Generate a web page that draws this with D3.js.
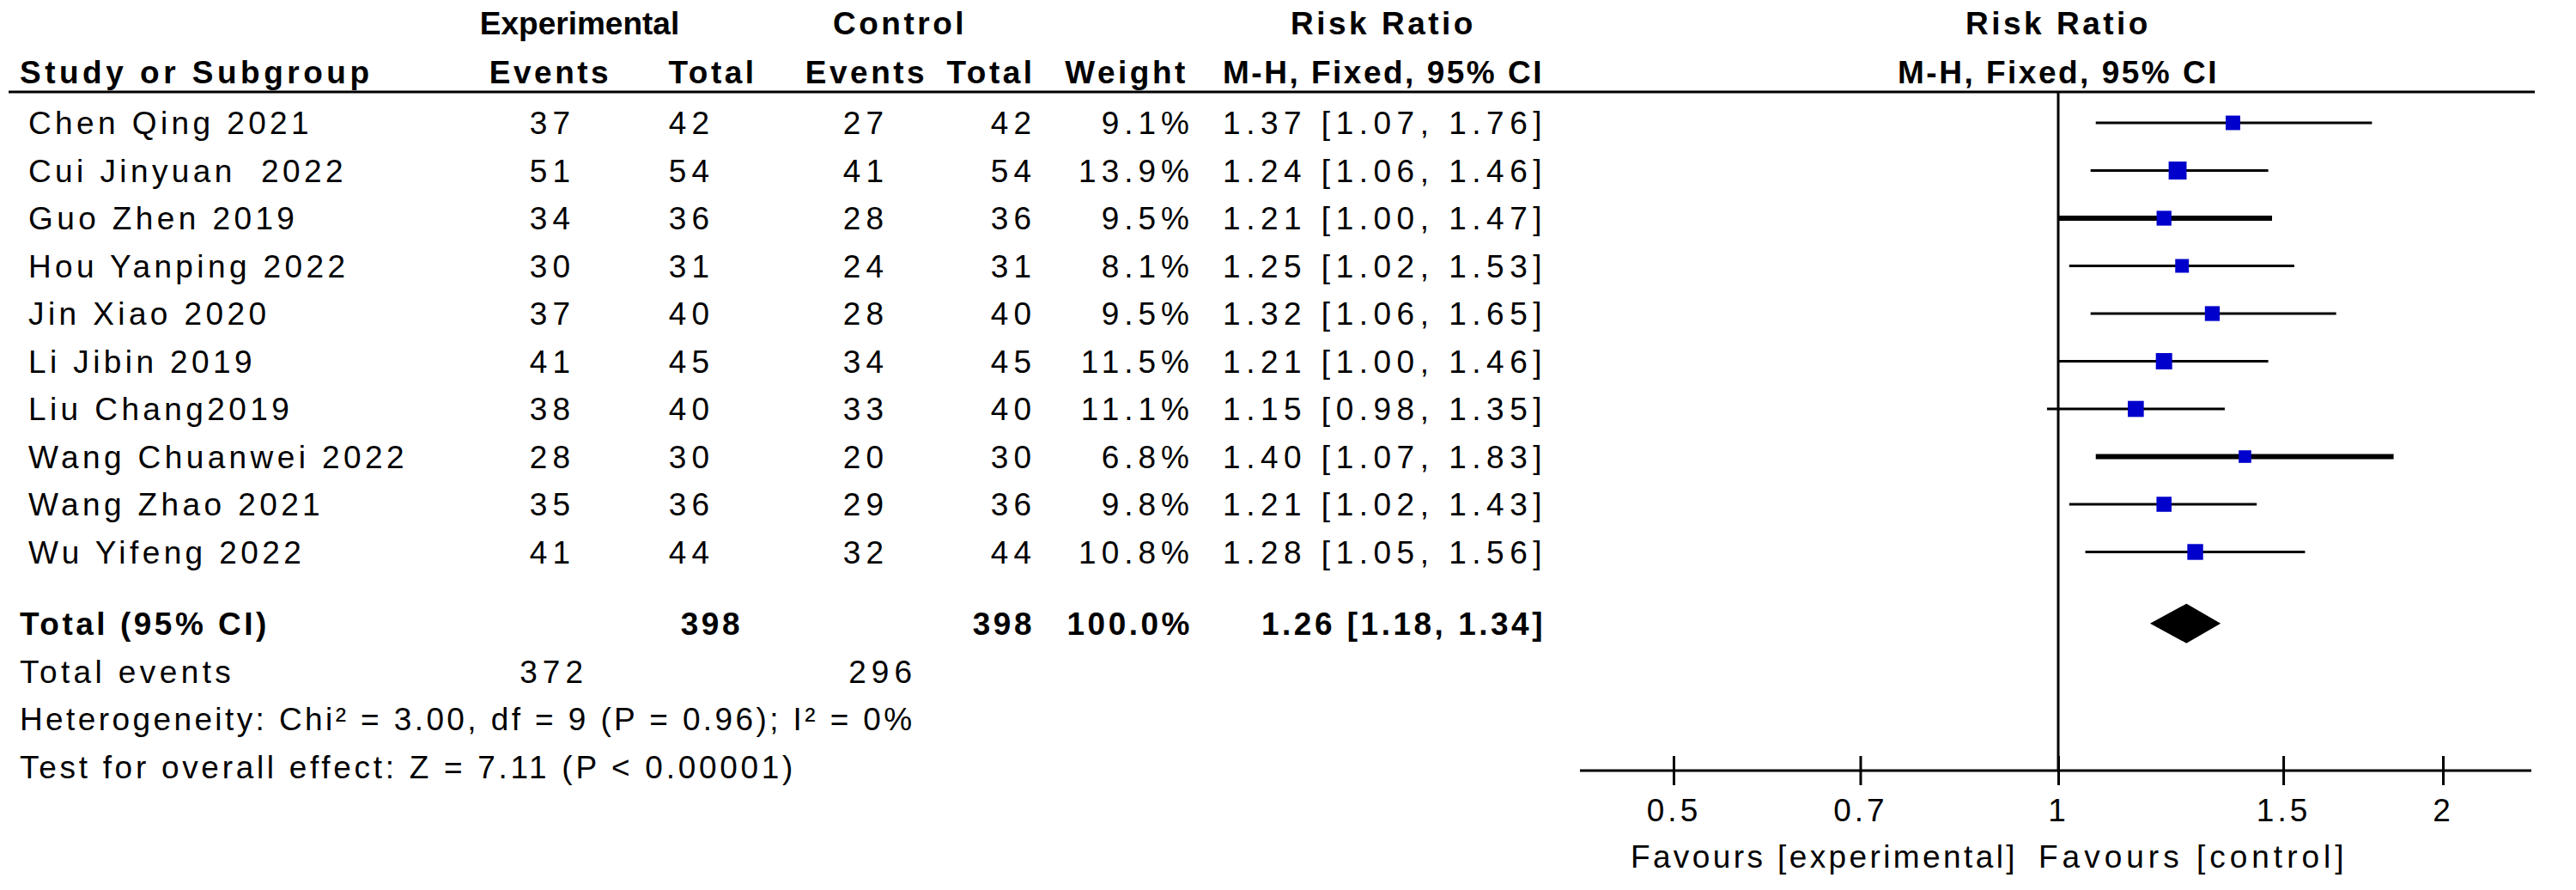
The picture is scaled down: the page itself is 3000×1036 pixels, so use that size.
<!DOCTYPE html>
<html>
<head>
<meta charset="utf-8">
<script src="https://cdn.jsdelivr.net/npm/d3@7"></script>
<style>
  html, body { margin: 0; padding: 0; background: #fff; }
  svg { display: block; }
  text { white-space: pre; }
</style>
</head>
<body>
<svg id="chart" width="3000" height="1036"></svg>
<script>
// ---------------- DATA ----------------
const studies = ["Chen Qing 2021", "Cui Jinyuan  2022", "Guo Zhen 2019", "Hou Yanping 2022", "Jin Xiao 2020",
  "Li Jibin 2019", "Liu Chang2019", "Wang Chuanwei 2022", "Wang Zhao 2021", "Wu Yifeng 2022"];
const expEvents = [37, 51, 34, 30, 37, 41, 38, 28, 35, 41];
const expTotal = [42, 54, 36, 31, 40, 45, 40, 30, 36, 44];
const ctrlEvents = [27, 41, 28, 24, 28, 34, 33, 20, 29, 32];
const ctrlTotal = [42, 54, 36, 31, 40, 45, 40, 30, 36, 44];
const weights = [9.1, 13.9, 9.5, 8.1, 9.5, 11.5, 11.1, 6.8, 9.8, 10.8];
const rr = [1.37, 1.24, 1.21, 1.25, 1.32, 1.21, 1.15, 1.40, 1.21, 1.28];
const ciLow = [1.07, 1.06, 1.00, 1.02, 1.06, 1.00, 0.98, 1.07, 1.02, 1.05];
const ciHigh = [1.76, 1.46, 1.47, 1.53, 1.65, 1.46, 1.35, 1.83, 1.43, 1.56];
const totalSummary = { expTotal: 398, ctrlTotal: 398, weight: "100.0%", rr: 1.26, lo: 1.18, hi: 1.34 };
const totalEvents = [372, 296];
const tickValues = [0.5, 0.7, 1, 1.5, 2];
const tickLabels = ["0.5", "0.7", "1", "1.5", "2"];
const heterogeneityText = "Heterogeneity: Chi\u00B2 = 3.00, df = 9 (P = 0.96); I\u00B2 = 0%";
const overallText = "Test for overall effect: Z = 7.11 (P < 0.00001)";
const favoursLeft = "Favours [experimental]";
const favoursRight = "Favours [control]";

// ---------------- STYLE ----------------
const ciStroke = [3, 3, 6, 3, 3, 3, 3, 6, 3, 3];
const FONT = "'Liberation Sans', Arial, sans-serif";
const FS = 37;
const LS = "4.4px";    // plain text
const LSN = "6px";     // numeric cells
const LSB = "3.5px";   // bold headers

const svg = d3.select("#chart");

const x = d3.scaleLog().domain([0.5, 2]).range([1949, 2845]);
const yRow = d3.scaleLinear().domain([0, 1]).range([143, 198.5]);

function txt(s, xPos, yPos, anchor, bold, ls) {
  return svg.append("text")
    .attr("x", xPos).attr("y", yPos)
    .attr("dy", "0.36em")
    .attr("text-anchor", anchor || "start")
    .attr("font-family", FONT)
    .attr("font-size", FS)
    .attr("letter-spacing", ls || (bold ? LSB : LS))
    .attr("font-weight", bold ? "bold" : "normal")
    .attr("fill", "#000")
    .text(s);
}

// ---------------- HEADERS ----------------
const H1 = 27, H2 = 84;
txt("Experimental", 675, H1, "middle", true, "0px");
txt("Control", 1048, H1, "middle", true);
txt("Risk Ratio", 1611, H1, "middle", true);
txt("Risk Ratio", 2397, H1, "middle", true);
txt("Study or Subgroup", 23, H2, "start", true, "4.5px");
txt("Events", 641, H2, "middle", true);
txt("Total", 830, H2, "middle", true);
txt("Events", 1009, H2, "middle", true);
txt("Total", 1154, H2, "middle", true);
txt("Weight", 1312, H2, "middle", true);
txt("M-H, Fixed, 95% CI", 1611, H2, "middle", true, "2.5px");
txt("M-H, Fixed, 95% CI", 2397, H2, "middle", true, "2.5px");

svg.append("line").attr("x1", 10).attr("x2", 2952).attr("y1", 107).attr("y2", 107)
  .attr("stroke", "#000").attr("stroke-width", 3);

// ---------------- ROWS ----------------
const fmt2 = d3.format(".2f");
studies.forEach((s, i) => {
  const y = yRow(i);
  txt(s, 33, y, "start");
  txt(String(expEvents[i]), 670, y, "end", false, LSN);
  txt(String(expTotal[i]), 832, y, "end", false, LSN);
  txt(String(ctrlEvents[i]), 1035, y, "end", false, LSN);
  txt(String(ctrlTotal[i]), 1207, y, "end", false, LSN);
  txt(weights[i].toFixed(1) + "%", 1391, y, "end", false, LSN);
  txt(`${fmt2(rr[i])} [${fmt2(ciLow[i])}, ${fmt2(ciHigh[i])}]`, 1802, y, "end", false, "6.5px");
});

// Total row
const yT = yRow(10.5);
txt("Total (95% CI)", 23, yT, "start", true);
txt(String(totalSummary.expTotal), 865, yT, "end", true);
txt(String(totalSummary.ctrlTotal), 1205, yT, "end", true);
txt(totalSummary.weight, 1389, yT, "end", true);
txt(`${fmt2(totalSummary.rr)} [${fmt2(totalSummary.lo)}, ${fmt2(totalSummary.hi)}]`, 1800, yT, "end", true);

const yE = yRow(11.5);
txt("Total events", 23, yE, "start");
txt(String(totalEvents[0]), 685, yE, "end", false, LSN);
txt(String(totalEvents[1]), 1068, yE, "end", false, LSN);
txt(heterogeneityText, 23, yRow(12.5), "start", false, "3.4px");
txt(overallText, 23, yRow(13.5), "start", false, "3.7px");

// ---------------- FOREST PLOT ----------------
const axisY = 897;
svg.append("line").attr("x1", x(1)).attr("x2", x(1)).attr("y1", 107).attr("y2", axisY)
  .attr("stroke", "#000").attr("stroke-width", 3);

svg.append("g").selectAll("line").data(studies).join("line")
  .attr("x1", (d, i) => x(ciLow[i])).attr("x2", (d, i) => x(ciHigh[i]))
  .attr("y1", (d, i) => yRow(i)).attr("y2", (d, i) => yRow(i))
  .attr("stroke", "#000").attr("stroke-width", (d, i) => ciStroke[i]);

const side = w => 5.6 * Math.sqrt(w);
svg.append("g").selectAll("rect").data(studies).join("rect")
  .attr("x", (d, i) => x(rr[i]) - side(weights[i]) / 2)
  .attr("y", (d, i) => yRow(i) - side(weights[i]) / 2)
  .attr("width", (d, i) => side(weights[i]))
  .attr("height", (d, i) => side(weights[i]))
  .attr("fill", "#0000cc");

const dh = 23;
svg.append("path")
  .attr("d", `M${x(totalSummary.lo)},${yT} L${x(totalSummary.rr)},${yT - dh} L${x(totalSummary.hi)},${yT} L${x(totalSummary.rr)},${yT + dh} Z`)
  .attr("fill", "#000");

svg.append("line").attr("x1", 1840).attr("x2", 2948).attr("y1", axisY).attr("y2", axisY)
  .attr("stroke", "#000").attr("stroke-width", 3);
const axis = d3.axisBottom(x).tickValues(tickValues).tickFormat((d, i) => tickLabels[i]).tickSize(0);
const ag = svg.append("g").attr("transform", `translate(0,${axisY})`).call(axis);
ag.select(".domain").remove();
ag.selectAll(".tick line").attr("y1", -17).attr("y2", 17).attr("stroke", "#000").attr("stroke-width", 3);
ag.selectAll(".tick text")
  .attr("y", 46).attr("dy", "0.36em")
  .attr("font-family", FONT).attr("font-size", FS).attr("letter-spacing", "4px").attr("fill", "#000");

txt(favoursLeft, 2350, 997, "end", false, "3.4px");
txt(favoursRight, 2374, 997, "start", false, "5px");
</script>
</body>
</html>
